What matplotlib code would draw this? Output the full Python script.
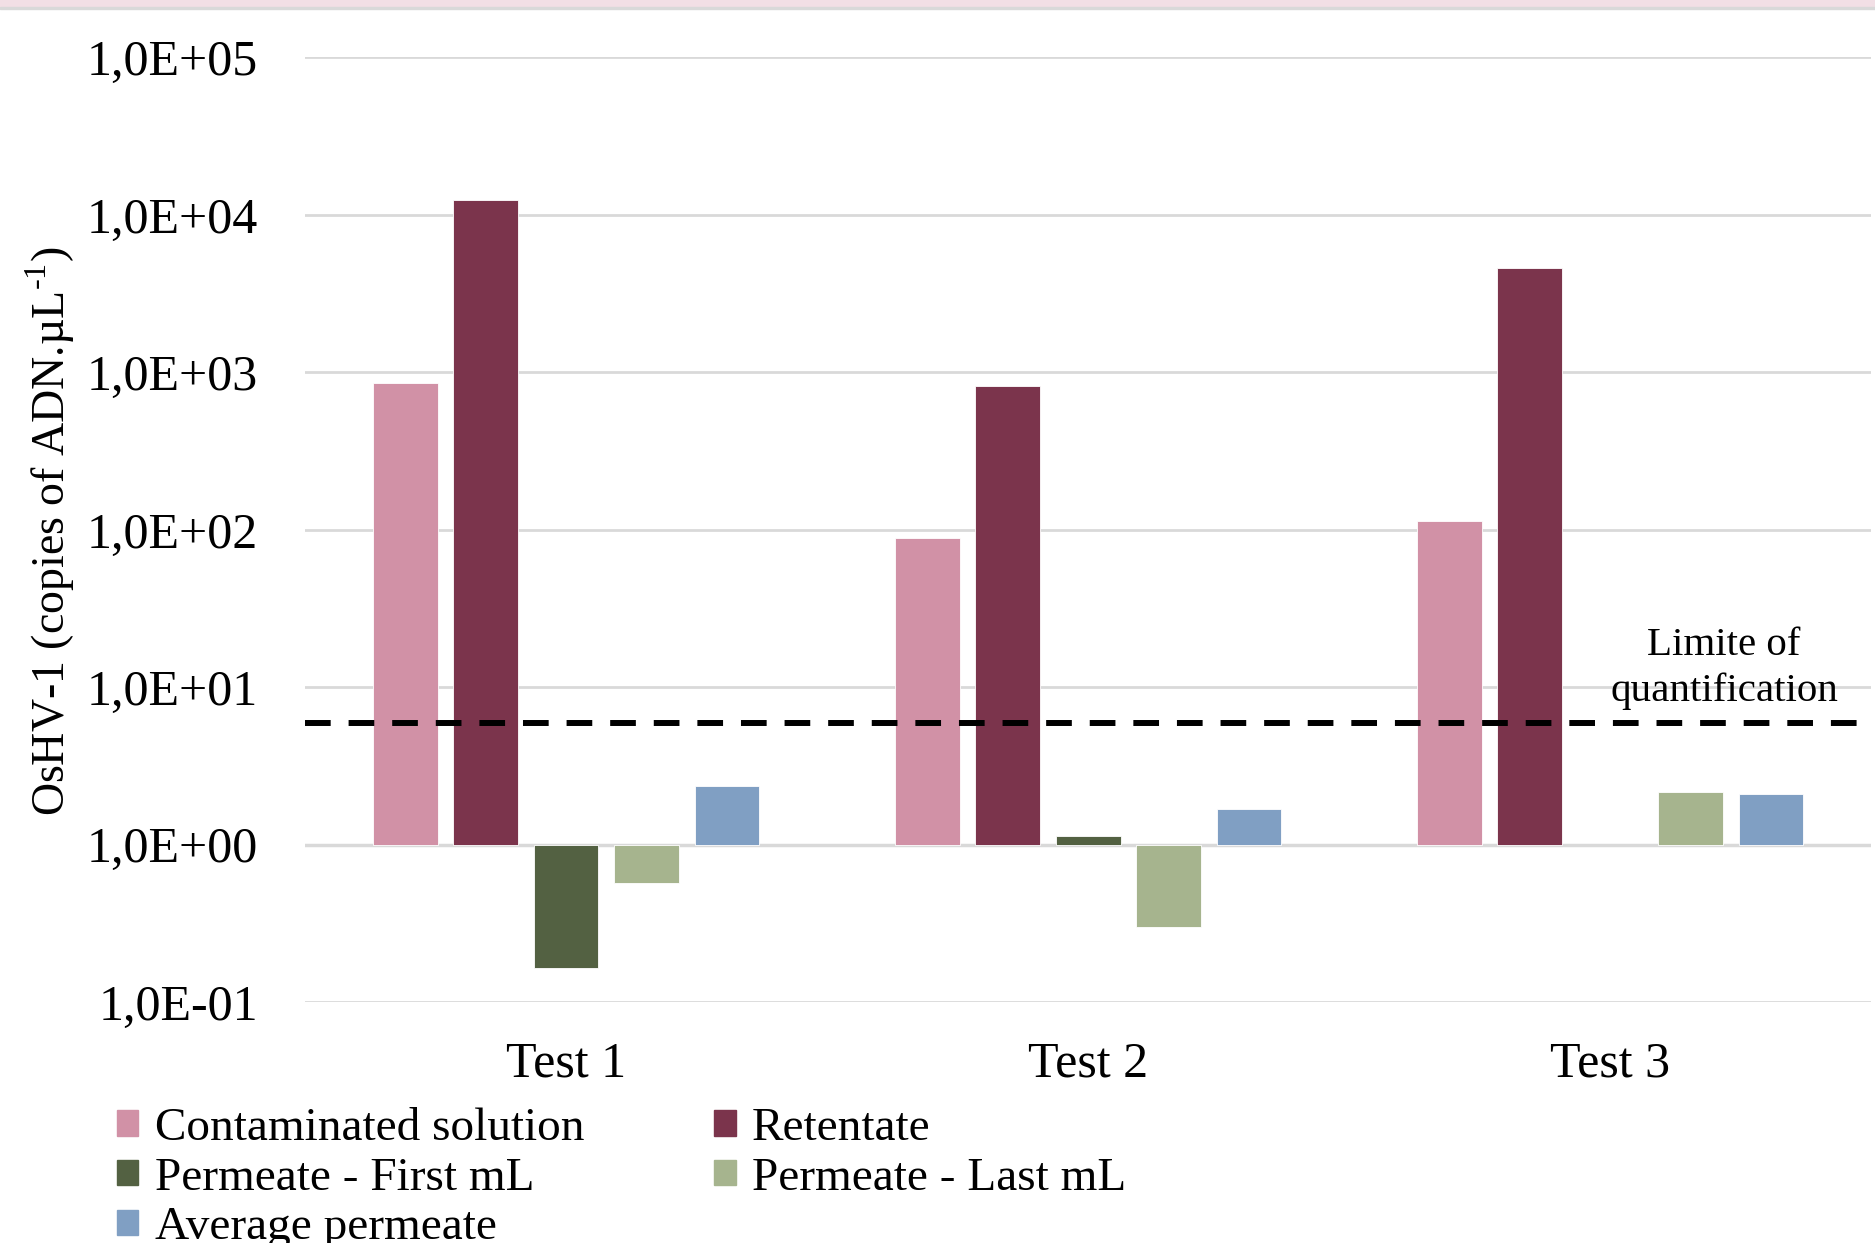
import numpy as np
import matplotlib.pyplot as plt
from matplotlib.patches import Patch
from matplotlib.ticker import FixedLocator, FuncFormatter

plt.rcParams['font.family'] = ['Liberation Serif', 'DejaVu Serif']
plt.rcParams['mathtext.fontset'] = 'custom'
plt.rcParams['mathtext.rm'] = 'Liberation Serif'

tests = ['Test 1', 'Test 2', 'Test 3']
series = ['Contaminated solution', 'Retentate', 'Permeate - First mL',
          'Permeate - Last mL', 'Average permeate']
colors = ['#d191a6', '#7b344c', '#536142', '#a6b48e', '#809fc3']

contaminated = [850, 89, 114]
retentate = [12400, 824, 4570]
first_ml = [0.165, 1.13, np.nan]
last_ml = [0.57, 0.30, 2.16]
average = [2.36, 1.69, 2.08]
loq = 5.95

values = [contaminated, retentate, first_ml, last_ml, average]

fig = plt.figure(figsize=(18.75, 12.43), dpi=100)
# header strip
fig.patches.append(plt.Rectangle((0, 1 - 7 / 1243), 1, 7 / 1243, transform=fig.transFigure,
                                 color='#f2dfe5', zorder=0))
fig.patches.append(plt.Rectangle((0, 1 - 9 / 1243), 1, 2 / 1243, transform=fig.transFigure,
                                 color='#d9d9d9', zorder=0))

ax = fig.add_axes([0.1627, 0.1939, 0.8353, 0.7599])
ax.set_yscale('log')
ax.set_ylim(0.1, 1e5)
ax.set_xlim(-0.5, 2.5)

x = np.arange(len(tests))
step = 0.154
width = 0.124
for i, (vals, c) in enumerate(zip(values, colors)):
    vals = np.array(vals, dtype=float)
    # bars start at 1, where the category axis crosses
    ax.bar(x + (i - 2) * step, vals - 1, width=width, bottom=1, color=c,
           edgecolor='white', linewidth=0.6, zorder=3)

ax.axhline(loq, color='black', lw=4.3, dashes=(4.3, 3), zorder=4)
ax.text(2.218, 13.1, 'Limite of\nquantification', ha='center', va='center',
        fontsize=29.5, linespacing=1.3, zorder=5)

ax.yaxis.set_major_locator(FixedLocator([10.0 ** k for k in range(-1, 6)]))
ax.yaxis.set_minor_locator(FixedLocator([]))
ax.yaxis.set_major_formatter(FuncFormatter(
    lambda v, p: '1,0E{}{:02d}'.format('+' if v >= 1 else '-', abs(int(round(np.log10(v)))))))
ax.grid(axis='y', color='#d9d9d9', lw=2, zorder=0)
ax.axhline(1, color='#d9d9d9', lw=2.5, zorder=2)
ax.tick_params(axis='y', length=0, labelsize=36, pad=34)
ax.set_xticks(x)
ax.set_xticklabels(tests)
ax.tick_params(axis='x', length=0, labelsize=36, pad=28)
for s in ax.spines.values():
    s.set_visible(False)

fig.text(0.027, 0.573, r'OsHV-1 (copies of ADN.µL$^{\text{-1}}$)', rotation=90,
         ha='center', va='center', fontsize=33)

handles = [Patch(color=c) for c in colors]
order = [0, 2, 4, 1, 3]
fig.legend([handles[i] for i in order], [series[i] for i in order], ncol=2,
           loc='upper left', bbox_to_anchor=(0.0499, 0.128), frameon=False,
           fontsize=34, handlelength=0.45, handleheight=0.45, handletextpad=0.35,
           labelspacing=0.15, columnspacing=2.75, borderpad=0)

fig.savefig('out.png', dpi=100)
